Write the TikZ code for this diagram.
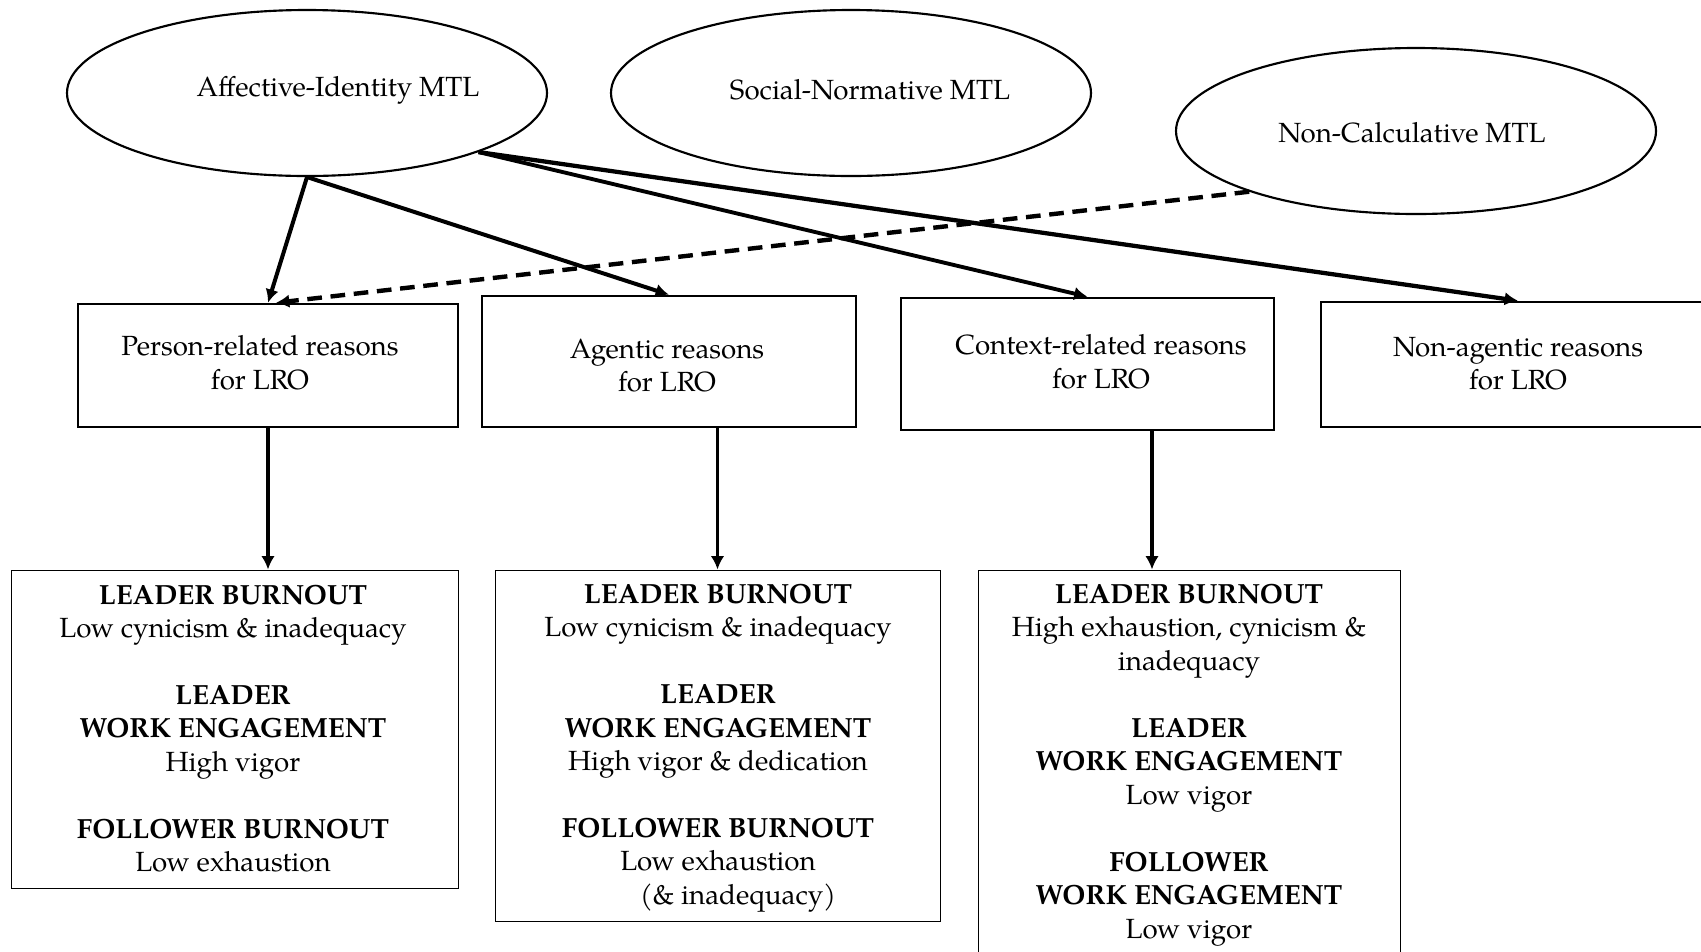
\documentclass[tikz,border=0pt]{standalone}
\usepackage{fontspec}
\setmainfont{TeX Gyre Pagella}
\usetikzlibrary{shapes.geometric,arrows.meta,calc}

\begin{document}
\begin{tikzpicture}[x=0.75pt,y=-0.75pt,
  every node/.style={font=\fontsize{20.8}{25.1}\selectfont},
  mtl/.style={ellipse,draw,line width=1.6pt,minimum width=360pt,minimum height=124.5pt,inner sep=0pt},
  txt/.style={align=center,inner sep=0pt},
  reason/.style={draw,line width=1.9pt,inner sep=0pt},
  outcome/.style={draw,line width=0.7pt,inner sep=0pt},
  arr/.style={-{Latex[length=10pt,width=10pt]}}]
\useasboundingbox (0,0) rectangle (1701,951);

% motives to lead
\node[mtl] (ai) at (307,93) {};
\node[txt] (aiT) at (338,90) {Affective-Identity MTL};
\node[mtl] (sn) at (851,93) {};
\node[txt] (snT) at (870,90) {Social-Normative MTL};
\node[mtl] (nc) at (1416,131) {};
\node[txt] (ncT) at (1412,133) {Non-Calculative MTL};

% reasons for leader role occupancy
\node[reason,minimum width=285pt,minimum height=92.25pt] (r1) at (268,365.5) {};
\node[txt] (r1T) at (260,362.5) {Person-related reasons\\for LRO};
\node[reason,minimum width=280.5pt,minimum height=98.25pt] (r2) at (669,361.5) {};
\node[txt] (r2T) at (667,365.5) {Agentic reasons\\for LRO};
\node[reason,minimum width=279.75pt,minimum height=99pt] (r3) at (1087.5,364) {};
\node[txt] (r3T) at (1101,361.5) {Context-related reasons\\for LRO};
\node[reason,minimum width=295.5pt,minimum height=93.75pt] (r4) at (1518,364.5) {};
\node[txt] (r4T) at (1518,363.5) {Non-agentic reasons\\for LRO};

% outcomes
\node[outcome,minimum width=335.25pt,minimum height=238.5pt] (oA) at (234.5,729) {};
\node[txt] (oAT) at (233,728.5) {{\bfseries LEADER BURNOUT}\\Low cynicism \& inadequacy\\[25.1pt]
  {\bfseries LEADER}\\{\bfseries WORK ENGAGEMENT}\\High vigor\\[25.1pt]
  {\bfseries FOLLOWER BURNOUT}\\Low exhaustion};
\node[outcome,minimum width=333.75pt,minimum height=263.25pt] (oB) at (717.5,745.5) {};
\node[txt] (oBT) at (718,748) {{\bfseries LEADER BURNOUT}\\Low cynicism \& inadequacy\\[25.1pt]
  {\bfseries LEADER}\\{\bfseries WORK ENGAGEMENT}\\High vigor \& dedication\\[25.1pt]
  {\bfseries FOLLOWER BURNOUT}\\Low exhaustion\\\hspace*{30pt}(\& inadequacy)};
\node[outcome,minimum width=316.5pt,minimum height=315pt] (oC) at (1189,780) {};
\node[txt] (oCT) at (1189,765) {{\bfseries LEADER BURNOUT}\\High exhaustion, cynicism \&\\inadequacy\\[25.1pt]
  {\bfseries LEADER}\\{\bfseries WORK ENGAGEMENT}\\Low vigor\\[25.1pt]
  {\bfseries FOLLOWER}\\{\bfseries WORK ENGAGEMENT}\\Low vigor};

% paths from Affective-Identity MTL
\draw[arr,line width=3pt] (ai.south) -- (r1.north);
\draw[arr,line width=3pt] (ai.south) -- (r2.north);
\draw[arr,line width=2.9pt] (ai.-19) -- (r3.north);
\draw[arr,line width=3.2pt] (ai.-19) -- (r4.north);
% path from Non-Calculative MTL
\draw[arr,line width=3.3pt,dash pattern=on 11pt off 6.5pt] (nc.200) -- ($(r1.north)+(8,0)$);

% paths to outcomes
\coordinate (s3) at ($(r3.south)+(64.5,0)$);
\draw[arr,line width=2.6pt] (r1.south) -- (r1.south |- oA.north);
\draw[arr,line width=2.6pt] (r2.south -| oB.north) -- (oB.north);
\draw[arr,line width=2.6pt] (s3) -- (s3 |- oC.north);
\end{tikzpicture}
\end{document}
